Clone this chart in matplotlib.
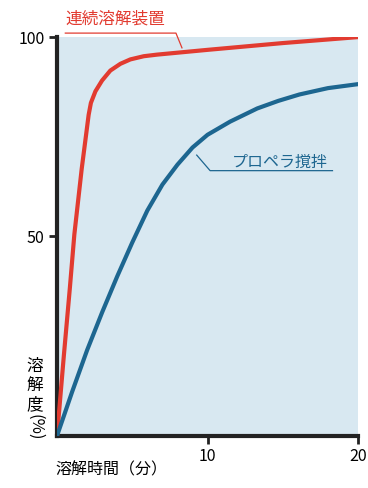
import numpy as np
import matplotlib.pyplot as plt

plt.rcParams['font.family'] = ['Noto Sans CJK JP', 'DejaVu Sans']

# continuous dissolver (red)
red_x = [0, 0.45, 0.85, 1.15, 1.64, 1.93, 2.1, 2.25, 2.55, 2.99, 3.54, 4.21, 4.87,
         5.76, 6.64, 10, 15, 20]
red_y = [0, 20, 37, 50.5, 67, 75.5, 80.5, 83.5, 86.4, 89.1, 91.6, 93.3, 94.4,
         95.2, 95.6, 96.8, 98.5, 100]

# propeller stirring (blue)
blue_x = [0, 1, 2, 3, 4, 5, 6, 7, 8, 9, 10, 11.5, 13.3, 14.7, 16.1, 18, 20]
blue_y = [0, 11, 21.5, 31, 40, 48.5, 56.5, 63, 68, 72.3, 75.5, 78.8, 82.1,
          84.0, 85.6, 87.2, 88.2]

xticks = [10, 20]
yticks = [50, 100]

red = '#e23b30'
blue = '#1d6690'

fig = plt.figure(figsize=(3.68, 4.88), dpi=100)
ax = fig.add_axes([0.155, 0.107, 0.818, 0.817])
ax.set_facecolor('#d8e8f1')

ax.plot(red_x, red_y, color=red, lw=3, solid_capstyle='round',
        solid_joinstyle='round', zorder=3)
ax.plot(blue_x, blue_y, color=blue, lw=3, solid_capstyle='round',
        solid_joinstyle='round', zorder=3)

ax.set_xlim(0, 20)
ax.set_ylim(0, 100)
ax.set_xticks(xticks)
ax.set_yticks(yticks)
ax.tick_params(length=6, width=2, labelsize=11.5, color='#222222', pad=3)

for s in ['top', 'right']:
    ax.spines[s].set_visible(False)
for s in ['left', 'bottom']:
    ax.spines[s].set_linewidth(3)
    ax.spines[s].set_color('#222222')

# labels with leader lines
ax.text(0.55, 103.5, '連続溶解装置', color=red, fontsize=12, clip_on=False)
ax.plot([0.55, 7.9, 8.3], [101, 101, 97.3], color=red, lw=0.9, clip_on=False)

ax.text(11.6, 67.5, 'プロペラ撹拌', color=blue, fontsize=11.5)
ax.plot([9.28, 10.17, 18.3], [70.4, 66.5, 66.5], color=blue, lw=0.9)

# vertical y label
ylab = ['溶', '解', '度']
for i, ch in enumerate(ylab):
    fig.text(0.095, 0.25 - i * 0.04, ch, fontsize=12, ha='center', va='center')
fig.text(0.095, 0.125, '(%)', fontsize=12, ha='center', va='center', rotation=-90)

fig.text(0.15, 0.02, '溶解時間（分）', fontsize=11.5, ha='left', va='bottom')

fig.savefig('out.png')
